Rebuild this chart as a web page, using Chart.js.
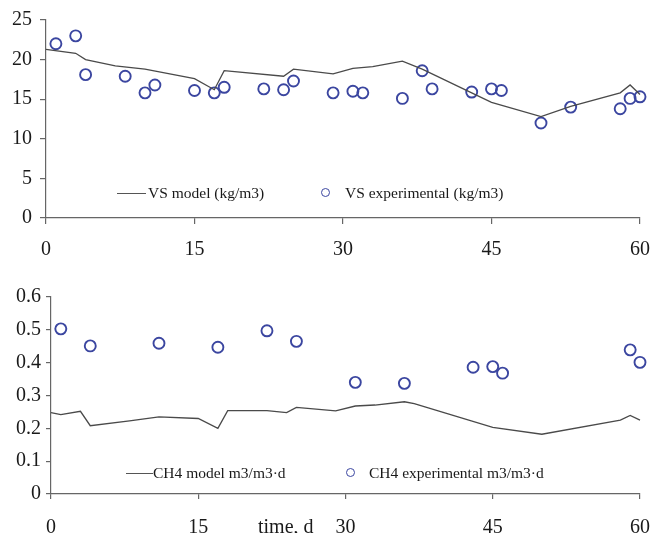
<!DOCTYPE html>
<html lang="en">
<head>
<meta charset="UTF-8">
<title>VS and CH4 model vs experimental</title>
<script src="https://cdn.jsdelivr.net/npm/chart.js@4/dist/chart.umd.min.js"></script>
<style>
    body { margin: 0; background: #fff; }
    .janela { position: relative; width: 654px; height: 533px; overflow: hidden; font-family: "Liberation Serif", "DejaVu Serif", serif; color: #222; }
    .graf { position: absolute; left: 0; }
    .leg { position: absolute; font-size: 15.5px; line-height: 18px; white-space: nowrap; color: #1a1a1a; }
    .leg-linha { position: absolute; height: 0; border-top: 1.3px solid #555; }
    .leg-bola { position: absolute; width: 7px; height: 7px; border: 1.8px solid #3b46a0; border-radius: 50%; }
    .rotulo { position: absolute; font-size: 20px; line-height: 24px; white-space: nowrap; color: #1a1a1a; }
</style>
</head>
<body>
<div class="janela">
    <div class="graf" style="top:0; width:654px; height:262px;"><canvas id="grafico_vs"></canvas></div>
    <div class="graf" style="top:262px; width:654px; height:271px;"><canvas id="grafico_ch4"></canvas></div>

    <!-- legendas -->
    <div class="leg-linha" style="left:117px; top:193px; width:29px;"></div>
    <div class="leg" style="left:148px; top:184px;">VS model (kg/m3)</div>
    <div class="leg-bola" style="left:321px; top:188px;"></div>
    <div class="leg" style="left:345px; top:184px;">VS experimental (kg/m3)</div>

    <div class="leg-linha" style="left:126px; top:473px; width:27px;"></div>
    <div class="leg" style="left:153px; top:464px;">CH4 model m3/m3·d</div>
    <div class="leg-bola" style="left:346px; top:468px;"></div>
    <div class="leg" style="left:369px; top:464px;">CH4 experimental m3/m3·d</div>

    <div class="rotulo" style="left:258px; top:514px;">time, d</div>
</div>

<script>
// VS (kg/m3)
const vsModelDias = [0, 3, 4, 7, 10, 15, 17, 18, 24, 25, 29, 31, 33, 36, 38, 43, 45, 50, 53, 58, 59, 60];
const vsModelValores = [21.3, 20.8, 20.0, 19.2, 18.8, 17.6, 16.2, 18.6, 17.9, 18.8, 18.2, 18.9, 19.1, 19.8, 18.8, 15.8, 14.6, 12.8, 14.1, 15.8, 16.8, 15.6];
const vsExpDias = [1, 3, 4, 8, 10, 11, 15, 17, 18, 22, 24, 25, 29, 31, 32, 36, 38, 39, 43, 45, 46, 50, 53, 58, 59, 60];
const vsExpValores = [22.0, 23.0, 18.1, 17.9, 15.8, 16.8, 16.1, 15.8, 16.5, 16.3, 16.2, 17.3, 15.8, 16.0, 15.8, 15.1, 18.6, 16.3, 15.9, 16.3, 16.1, 12.0, 14.0, 13.8, 15.1, 15.3];

// CH4 (m3/m3·d)
const ch4ModelDias = [0, 1, 3, 4, 8, 11, 15, 17, 18, 22, 24, 25, 29, 31, 33, 36, 37, 45, 50, 58, 59, 60];
const ch4ModelValores = [0.248, 0.242, 0.252, 0.208, 0.223, 0.235, 0.230, 0.200, 0.254, 0.254, 0.248, 0.264, 0.253, 0.268, 0.271, 0.281, 0.275, 0.203, 0.182, 0.225, 0.239, 0.225];
const ch4ExpDias = [1, 4, 11, 17, 22, 25, 31, 36, 43, 45, 46, 59, 60];
const ch4ExpValores = [0.503, 0.451, 0.459, 0.447, 0.497, 0.465, 0.340, 0.337, 0.386, 0.388, 0.368, 0.439, 0.401];

const diasTicks = [0, 15, 30, 45, 60];

function pares(xs, ys) {
    return xs.map((x, i) => ({ x: x, y: ys[i] }));
}

function montarGrafico(id, modelo, exp, yMax, yPasso, larguraY, alturaX, padTopo, cfgEixos) {
    const ctx = document.getElementById(id).getContext('2d');
    return new Chart(ctx, {
        type: 'scatter',
        data: {
            datasets: [{
                label: 'model',
                data: modelo,
                showLine: true,
                borderColor: '#4a4a4a',
                borderWidth: 1.3,
                pointRadius: 0,
                tension: 0,
                clip: false
            }, {
                label: 'experimental',
                data: exp,
                showLine: false,
                pointRadius: 5.5,
                pointBorderWidth: 1.9,
                borderColor: '#3b46a0',
                backgroundColor: 'rgba(0,0,0,0)',
                clip: false
            }]
        },
        options: {
            responsive: true,
            maintainAspectRatio: false,
            animation: false,
            layout: { padding: { top: padTopo, right: 14, left: 0, bottom: 0 } },
            plugins: { legend: { display: false }, tooltip: { enabled: false } },
            scales: {
                x: {
                    type: 'linear',
                    min: 0, max: 60,
                    afterBuildTicks: (eixo) => { eixo.ticks = diasTicks.map(v => ({ value: v })); },
                    afterFit: (eixo) => {
                        eixo.height = alturaX;
                        // o eixo nao pede espaco extra para o rotulo "60"
                        eixo.paddingLeft = 0;
                        eixo.paddingRight = 0;
                    },
                    border: { color: '#666', width: 1.2 },
                    grid: { drawOnChartArea: false, tickLength: cfgEixos.xTick, color: '#666', lineWidth: 1.2 },
                    ticks: { color: '#1a1a1a', padding: cfgEixos.xPad, maxRotation: 0, font: { family: 'Liberation Serif', size: 20 } }
                },
                y: {
                    min: 0, max: yMax,
                    afterFit: (eixo) => { eixo.width = larguraY; },
                    border: { color: '#666', width: 1.2 },
                    grid: { drawOnChartArea: false, tickLength: cfgEixos.yTick, color: '#666', lineWidth: 1.2 },
                    ticks: { stepSize: yPasso, color: '#1a1a1a', padding: cfgEixos.yPad, font: { family: 'Liberation Serif', size: 20 } }
                }
            }
        }
    });
}

montarGrafico('grafico_vs', pares(vsModelDias, vsModelValores), pares(vsExpDias, vsExpValores),
    25, 5, 46, 44, 20, { xTick: 6, xPad: 14, yTick: 6, yPad: 8 });
montarGrafico('grafico_ch4', pares(ch4ModelDias, ch4ModelValores), pares(ch4ExpDias, ch4ExpValores),
    0.6, 0.1, 51, 39, 35, { xTick: 5, xPad: 17, yTick: 5, yPad: 5 });
</script>
</body>
</html>
